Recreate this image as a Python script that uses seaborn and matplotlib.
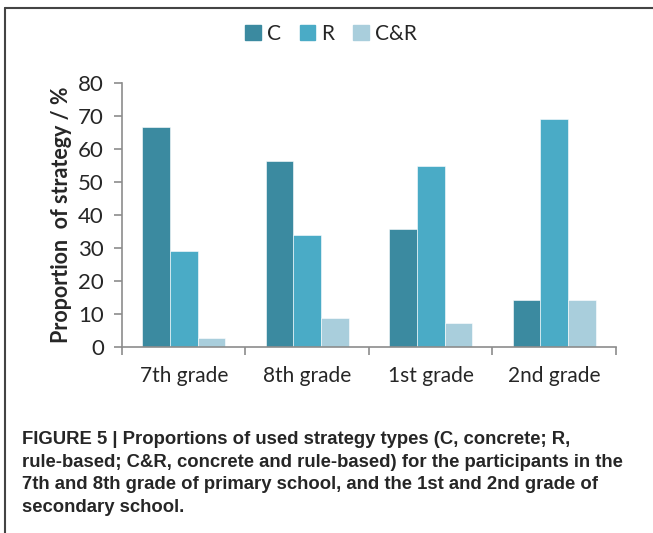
import numpy as np
import pandas as pd
import matplotlib.pyplot as plt
import matplotlib.patches as mpatches
from matplotlib.lines import Line2D
import seaborn as sns

# ── Data ─────────────────────────────────────────────
grades     = ['7th grade', '8th grade', '1st grade', '2nd grade']
strategies = ['C', 'R', 'C&R']
c_vals     = [66.7, 56.3, 35.7, 14.3]
r_vals     = [29.2, 33.8, 54.8, 69.0]
cr_vals    = [2.8, 8.8, 7.4, 14.3]

colors = ['#3B8AA0', '#4AABC6', '#A9CEDC']

df = pd.DataFrame({
    'grade':    grades * 3,
    'strategy': [s for s in strategies for _ in grades],
    'value':    c_vals + r_vals + cr_vals,
})

sns.set_style('white')
plt.rcParams['font.family'] = ['Lato', 'DejaVu Sans']

fig = plt.figure(figsize=(6.53, 5.33), dpi=100)
ax = fig.add_axes([0.1868, 0.349, 0.7565, 0.4955])

sns.barplot(data=df, x='grade', y='value', hue='strategy', order=grades,
            hue_order=strategies, palette=colors, saturation=1, width=0.67, gap=0,
            ax=ax, legend=False, edgecolor='white', linewidth=0.4)

ax.set_ylim(0, 80)
ax.set_xlim(-0.5, 3.5)
ax.set_yticks(range(0, 81, 10))
ax.set_xticks(range(len(grades)))
ax.set_xticklabels(grades, fontsize=15)
ax.set_xticks(np.arange(-0.5, 3.6, 1), minor=True)
ax.tick_params(axis='x', which='major', bottom=False, length=0, pad=14)
ax.tick_params(axis='x', which='minor', bottom=True, length=6, width=1.2,
               color='#8c8c8c', direction='out')
ax.tick_params(axis='y', left=True, length=6, width=1.2, color='#8c8c8c', direction='out',
               labelsize=16, pad=7)
ax.set_xlabel('')
ax.set_ylabel('Proportion  of strategy / %', fontsize=15.5, fontweight='bold', labelpad=4)
for side in ['top', 'right']:
    ax.spines[side].set_visible(False)
for side in ['left', 'bottom']:
    ax.spines[side].set_color('#8c8c8c')
    ax.spines[side].set_linewidth(1.2)

# legend on top
handles = [mpatches.Patch(color=c, label=s) for c, s in zip(colors, strategies)]
fig.legend(handles=handles, loc='center', bbox_to_anchor=(0.507, 0.937), ncol=3,
           frameon=False, fontsize=15, handlelength=0.75, handleheight=0.75,
           handletextpad=0.3, columnspacing=0.9)

# outer frame (top and left lines)
fig.add_artist(Line2D([0.008, 1.0], [0.985, 0.985], transform=fig.transFigure,
                      color='#444444', linewidth=1.5))
fig.add_artist(Line2D([0.008, 0.008], [0.0, 0.985], transform=fig.transFigure,
                      color='#444444', linewidth=1.5))

caption = ('FIGURE 5 | Proportions of used strategy types (C, concrete; R,\n'
           'rule-based; C&R, concrete and rule-based) for the participants in the\n'
           '7th and 8th grade of primary school, and the 1st and 2nd grade of\n'
           'secondary school.')
fig.text(0.034, 0.192, caption, ha='left', va='top', fontsize=13.3, fontweight='bold',
         family=['Liberation Sans', 'DejaVu Sans'], linespacing=1.45)

plt.savefig('out.png', dpi=100)
